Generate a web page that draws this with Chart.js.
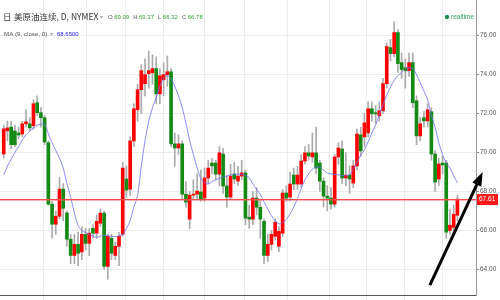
<!DOCTYPE html>
<html>
<head>
<meta charset="utf-8">
<script src="https://cdn.jsdelivr.net/npm/chart.js@4"></script>
<style>
  html, body { margin: 0; padding: 0; background: #fff; }
  #wrap { width: 500px; height: 300px; }
</style>
</head>
<body>
<div id="wrap"><canvas id="c" width="500" height="300"></canvas></div>
<script>
// daily candles, oldest first
const opens = [
  69.92, 71.11, 71.3, 71.1, 71.0, 70.95, 71.47, 71.47, 71.37, 72.55,
  72.04, 71.78, 70.5, 67.35, 66.32, 66.73, 68.12, 66.9, 65.55, 64.72,
  65.29, 64.9, 65.8, 65.34, 66.11, 65.86, 66.37, 66.89, 64.16, 65.6,
  64.72, 65.19, 65.8, 68.64, 68.12, 70.59, 72.19, 73.22, 73.53, 74.04,
  74.09, 74.3, 73.01, 73.73, 73.99, 74.14, 70.44, 70.23, 70.44, 67.86,
  66.58, 67.81, 67.86, 67.97, 67.66, 68.69, 69.46, 69.46, 68.89, 69.92,
  68.28, 67.71, 68.89, 68.53, 68.79, 68.95, 66.68, 66.58, 67.66, 67.19,
  66.47, 64.72, 65.29, 65.7, 65.19, 65.86, 67.92, 67.71, 68.84, 68.38,
  68.38, 69.56, 69.98, 69.77, 69.98, 69.46, 68.53, 67.76, 67.66, 67.35,
  69.77, 70.18, 68.69, 68.84, 68.43, 69.31, 70.9, 70.8, 71.01, 72.24,
  72.04, 71.88, 72.14, 73.53, 75.38, 75.07, 76.15, 74.61, 74.35, 74.2,
  74.61, 72.65, 70.85, 71.78, 71.62, 72.09, 69.92, 68.64, 69.46, 69.46,
  66.0, 66.16, 66.78
];
const highs = [
  71.4, 71.6, 71.6, 71.4, 71.3, 71.6, 72.2, 71.8, 72.7, 72.9,
  72.3, 71.9, 70.6, 67.5, 67.0, 68.7, 68.4, 67.0, 65.8, 65.8,
  65.9, 66.2, 66.1, 66.1, 66.3, 66.8, 67.1, 67.0, 65.8, 65.8,
  65.4, 65.9, 69.5, 69.3, 70.8, 72.5, 73.5, 74.5, 74.8, 75.2,
  75.0, 74.9, 74.3, 74.6, 74.95, 74.3, 71.0, 70.9, 70.6, 68.5,
  68.0, 68.6, 68.9, 69.1, 69.2, 69.6, 69.7, 69.6, 70.3, 70.2,
  68.8, 69.4, 69.5, 69.3, 69.6, 69.1, 67.3, 68.0, 68.2, 67.6,
  66.6, 65.8, 66.0, 66.6, 66.2, 68.1, 68.3, 69.0, 69.2, 69.3,
  69.9, 70.3, 70.4, 71.0, 71.3, 69.6, 68.7, 68.3, 68.2, 69.9,
  70.5, 70.6, 70.0, 69.3, 69.6, 71.2, 71.3, 72.0, 72.6, 72.6,
  72.4, 72.6, 73.8, 75.6, 75.8, 76.7, 76.3, 75.1, 74.8, 75.1,
  75.1, 72.9, 71.8, 72.1, 72.5, 72.3, 70.1, 69.7, 69.8, 69.6,
  67.1, 67.3, 67.8
];
const lows = [
  69.7, 70.6, 70.2, 70.3, 70.7, 70.8, 71.3, 71.1, 71.2, 71.9,
  71.3, 70.4, 67.3, 65.6, 65.8, 66.6, 66.5, 65.2, 64.3, 64.3,
  64.2, 64.5, 65.0, 64.7, 65.6, 65.6, 66.2, 64.0, 63.5, 64.5,
  64.5, 64.2, 65.7, 67.7, 67.8, 70.3, 71.6, 72.0, 72.9, 73.3,
  73.5, 72.5, 72.5, 72.9, 73.4, 70.3, 69.3, 69.9, 67.6, 67.2,
  66.1, 67.6, 67.6, 67.5, 67.5, 68.4, 68.9, 68.6, 68.3, 67.9,
  67.2, 67.6, 68.4, 68.3, 68.6, 66.3, 66.1, 66.3, 66.8, 65.6,
  64.3, 64.4, 65.0, 65.5, 64.9, 65.7, 67.5, 67.5, 68.1, 68.1,
  68.2, 69.4, 69.6, 69.5, 68.9, 68.0, 67.2, 67.0, 67.1, 67.2,
  69.4, 68.4, 68.3, 67.9, 68.2, 69.1, 69.8, 70.3, 70.8, 71.6,
  71.5, 71.6, 72.0, 73.3, 74.7, 74.9, 74.1, 73.8, 73.3, 73.9,
  72.3, 70.4, 70.6, 71.3, 71.3, 69.6, 68.0, 68.3, 68.9, 65.6,
  65.8, 65.9, 66.5
];
const closes = [
  71.21, 71.26, 70.4, 70.4, 70.9, 71.47, 71.57, 71.26, 72.5, 72.04,
  71.78, 70.54, 67.35, 66.32, 66.73, 68.12, 67.14, 65.55, 64.72, 65.29,
  64.83, 65.8, 65.34, 65.86, 65.86, 66.47, 66.89, 64.16, 65.7, 64.83,
  65.19, 65.7, 69.2, 68.07, 70.59, 72.24, 73.22, 74.2, 73.99, 74.2,
  74.3, 73.01, 73.94, 73.99, 74.14, 70.44, 70.23, 70.44, 67.86, 67.45,
  67.81, 67.86, 68.02, 67.61, 68.69, 69.2, 69.31, 68.89, 69.98, 68.28,
  67.71, 68.79, 68.64, 68.79, 68.95, 66.63, 66.58, 67.66, 67.19, 66.58,
  64.72, 65.29, 65.8, 66.42, 65.96, 67.92, 67.66, 68.38, 68.38, 68.84,
  69.56, 69.98, 69.82, 69.98, 69.2, 68.53, 67.76, 67.66, 67.35, 69.77,
  70.23, 68.69, 68.84, 68.64, 69.31, 70.95, 70.08, 71.52, 72.24, 71.98,
  71.98, 72.14, 73.53, 75.43, 75.07, 76.15, 74.56, 74.25, 74.2, 74.61,
  72.55, 70.85, 71.47, 71.62, 72.19, 69.92, 68.48, 69.41, 69.36, 65.91,
  66.27, 66.83, 67.61
];
// MA(9, close)
const ma9 = [
  68.85, 69.3, 69.65, 70.0, 70.3, 70.65, 70.9, 71.1, 71.25, 71.4,
  71.45, 71.45, 70.95, 70.5, 70.1, 69.7, 69.2, 68.4, 67.7, 66.9,
  66.25, 66.0, 65.9, 65.8, 65.7, 65.65, 65.7, 65.75, 65.72, 65.7,
  65.68, 65.72, 65.8, 66.1, 66.5, 67.2, 67.8, 69.3, 70.6, 71.6,
  72.3, 72.8, 73.4, 73.8, 73.94, 73.75, 73.4, 72.9, 72.3, 71.5,
  70.6, 69.9, 69.2, 68.65, 68.45, 68.38, 68.5, 68.6, 68.68, 68.75,
  68.79, 68.85, 68.89, 68.89, 68.88, 68.82, 68.7, 68.38, 68.1, 67.85,
  67.45, 67.1, 66.75, 66.5, 66.34, 66.4, 66.56, 66.85, 67.2, 67.65,
  68.15, 68.6, 68.9, 69.15, 69.25, 69.25, 69.1, 68.95, 68.9, 68.88,
  68.85, 68.82, 68.8, 68.85, 69.15, 69.5, 69.85, 70.15, 70.55, 71.0,
  71.4, 71.95, 72.45, 72.95, 73.35, 73.7, 73.95, 74.1, 74.3, 74.35,
  74.3, 74.0, 73.58, 73.15, 72.7, 71.9, 71.3, 70.5, 69.9, 69.45,
  69.2, 68.8, 68.45
];
const yTicks = [64, 66, 68, 70, 72, 74, 76];
// date grid lines (in candle index units)
const gridDays = [4.1, 17.2, 27.1, 38.2, 47.9, 60.0, 69.7, 82.8, 92.5, 102.7, 112.6, 123.5];

const idx = opens.map((_, i) => i);
const upColor = "#ff0000";
const downColor = "#138a13";
const bodyColors = closes.map((c, i) => (c >= opens[i] ? upColor : downColor));
const lastClose = closes[closes.length - 1];

// draw pieces one after another, like the legend strip of the original
function textRun(ctx, parts, x, y) {
  parts.forEach(([txt, color, gap]) => {
    ctx.fillStyle = color;
    ctx.fillText(txt, x, y);
    x += ctx.measureText(txt).width + (gap || 0);
  });
}

const overlay = {
  id: "overlay",
  afterDraw(chart) {
    const { ctx, chartArea, scales } = chart;
    ctx.save();

    // last price line + tag
    const py = Math.round(scales.y.getPixelForValue(lastClose));
    const w = chartArea.right - chartArea.left;
    ctx.fillStyle = "#ff4a4a";
    ctx.fillRect(chartArea.left, py, w, 1);
    ctx.fillStyle = "rgba(255,90,90,0.45)";
    ctx.fillRect(chartArea.left, py + 1, w, 1);
    ctx.fillStyle = "#ff1a1a";
    ctx.fillRect(chartArea.right + 1, py - 5, 21, 11);
    ctx.fillStyle = "#fff";
    ctx.font = "6.5px 'Liberation Sans'";
    ctx.textBaseline = "middle";
    ctx.textAlign = "left";
    ctx.fillText(lastClose.toFixed(2), chartArea.right + 3, py + 0.5);

    // header
    ctx.fillStyle = "#333";
    ctx.font = "8.5px 'Noto Sans CJK SC'";
    ctx.fillText("日", 3, 17);
    ctx.fillText("美原油连续, D, NYMEX", 14, 17);
    ctx.fillStyle = "#aaa";
    ctx.font = "6px 'DejaVu Sans'";
    ctx.fillText("▾", 100, 17);

    ctx.font = "6px 'Liberation Sans'";
    const grn = "#2f9e2f", gry = "#555";
    textRun(ctx, [
      ["O", gry, 1.5], ["69.09", grn, 4],
      ["H", gry, 1.5], ["69.37", grn, 4],
      ["L", gry, 1.5], ["66.32", grn, 4],
      ["C", gry, 1.5], ["66.78", grn, 0],
    ], 108, 17);

    ctx.font = "6.2px 'Liberation Sans'";
    ctx.fillStyle = gry;
    ctx.fillText("MA (9, close, 0)", 4, 34);
    ctx.fillStyle = "#aaa";
    ctx.font = "6px 'DejaVu Sans'";
    ctx.fillText("▾", 50, 34);
    ctx.fillStyle = "#2020ff";
    ctx.font = "6px 'Liberation Sans'";
    ctx.fillText("68.6500", 57, 34);

    ctx.fillStyle = "#1f8f4f";
    ctx.beginPath();
    ctx.arc(447, 17, 2.2, 0, Math.PI * 2);
    ctx.fill();
    ctx.fillStyle = "#2e9e5e";
    ctx.font = "6.5px 'Liberation Sans'";
    ctx.fillText("realtime", 451, 17);

    // arrow annotation
    const x0 = scales.x.getPixelForValue(114.6), y0 = scales.y.getPixelForValue(63.2);
    const x1 = scales.x.getPixelForValue(128.8), y1 = scales.y.getPixelForValue(69.0);
    const dx = x1 - x0, dy = y1 - y0, len = Math.hypot(dx, dy);
    const ux = dx / len, uy = dy / len;
    const hl = 14, hw = 5;
    ctx.strokeStyle = "#000";
    ctx.lineWidth = 3;
    ctx.beginPath();
    ctx.moveTo(x0, y0);
    ctx.lineTo(x1 - ux * (hl - 2), y1 - uy * (hl - 2));
    ctx.stroke();
    ctx.fillStyle = "#000";
    ctx.beginPath();
    ctx.moveTo(x1, y1);
    ctx.lineTo(x1 - ux * hl - uy * hw, y1 - uy * hl + ux * hw);
    ctx.lineTo(x1 - ux * hl + uy * hw, y1 - uy * hl - ux * hw);
    ctx.closePath();
    ctx.fill();

    ctx.restore();
  },
};

document.addEventListener("DOMContentLoaded", () => {
  const ctx = document.getElementById("c").getContext("2d");

  new Chart(ctx, {
    type: "bar",
    data: {
      datasets: [
        {
          type: "line",
          data: idx.map((i) => ({ x: i, y: ma9[i] })),
          borderColor: "rgba(110,110,245,0.8)",
          borderWidth: 1,
          pointRadius: 0,
          tension: 0.3,
          order: 0,
        },
        {
          data: idx.map((i) => ({ x: i, y: [opens[i], closes[i]] })),
          backgroundColor: bodyColors,
          barThickness: 3,
          grouped: false,
          order: 1,
        },
        {
          data: idx.map((i) => ({ x: i, y: [lows[i], highs[i]] })),
          backgroundColor: "#ababab",
          barThickness: 1,
          grouped: false,
          order: 2,
        },
      ],
    },
    options: {
      responsive: false,
      animation: false,
      events: [],
      layout: { padding: 0 },
      plugins: {
        legend: { display: false },
        tooltip: { enabled: false },
      },
      scales: {
        x: {
          type: "linear",
          min: -1,
          max: 127,
          offset: false,
          afterBuildTicks: (s) => {
            s.ticks = gridDays.map((v) => ({ value: v }));
          },
          afterFit: (s) => {
            s.height = 5;
            s.paddingLeft = 0;
            s.paddingRight = 0;
          },
          ticks: { display: false },
          grid: { color: "#ececec", tickLength: 5 },
          border: { color: "#555" },
        },
        y: {
          position: "right",
          min: 62.69,
          max: 77.82,
          afterBuildTicks: (s) => {
            s.ticks = yTicks.map((v) => ({ value: v }));
          },
          afterFit: (s) => {
            s.width = 24;
            s.paddingTop = 0;
            s.paddingBottom = 0;
          },
          ticks: {
            callback: (v) => v.toFixed(2),
            color: "#555",
            font: { size: 6.5, family: "'Liberation Sans'" },
            padding: 1,
          },
          grid: { color: "#ececec", tickLength: 3, tickColor: "#888" },
          border: { color: "#999" },
        },
      },
    },
    plugins: [overlay],
  });
});
</script>
</body>
</html>
